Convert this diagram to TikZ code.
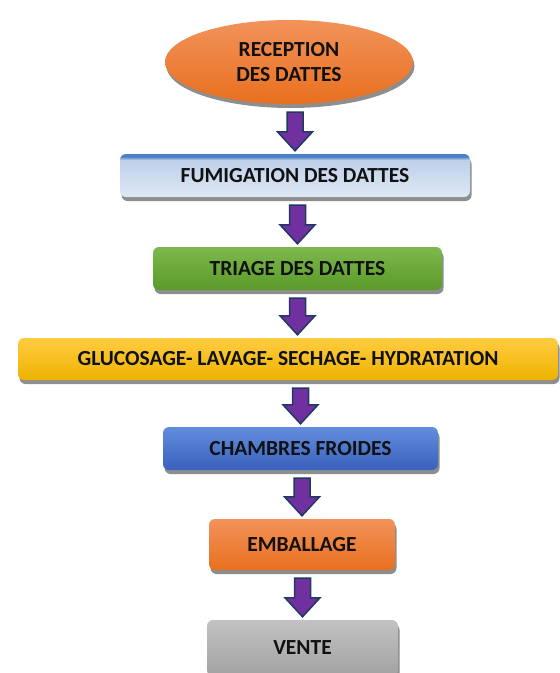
\documentclass[tikz,border=0pt]{standalone}
\usepackage{fontspec}
\setmainfont{Carlito}
\usetikzlibrary{shapes.geometric,shadows,calc}
\definecolor{orTop}{HTML}{F2925A}
\definecolor{orBot}{HTML}{E8701E}
\definecolor{fumBand}{HTML}{4A7EC6}
\definecolor{fumMid}{HTML}{BED0E9}
\definecolor{fumLo}{HTML}{DEE8F4}
\definecolor{grTop}{HTML}{7DB84C}
\definecolor{grBot}{HTML}{5A9A2A}
\definecolor{yeTop}{HTML}{FFCC40}
\definecolor{yeBot}{HTML}{EDB300}
\definecolor{blTop}{HTML}{628DDC}
\definecolor{blBot}{HTML}{3961BE}
\definecolor{gyTop}{HTML}{C2C2C2}
\definecolor{gyBot}{HTML}{A2A2A2}
\definecolor{shadowgray}{HTML}{7A7A7A}
\definecolor{arrowfill}{HTML}{7030A0}
\definecolor{arrowline}{HTML}{1F3A5F}
\definecolor{txt}{HTML}{111111}
\pgfdeclareverticalshading{fumishade}{100bp}{color(0bp)=(fumLo); color(25bp)=(fumLo); color(68bp)=(fumMid); color(72bp)=(fumBand); color(100bp)=(fumBand)}
\begin{document}
\begin{tikzpicture}[x=1pt, y=-1pt,
  stage/.style={rectangle, rounded corners=6pt, inner sep=0pt, text=txt,
    font=\fontsize{21.5}{25}\selectfont\bfseries, align=center,
    drop shadow={shadow xshift=1.5pt, shadow yshift=-4pt, fill=shadowgray, opacity=.85}},
  flowarrow/.style={fill=arrowfill, draw=arrowline, line width=1.5pt, line join=miter,
    to path={let \p1=(\tikztostart), \p2=(\tikztotarget) in
      (\x2-8pt,\y1-8pt) -- (\x2+8pt,\y1-8pt) -- (\x2+8pt,\y2+22pt) -- (\x2+17.5pt,\y2+22pt)
      -- (\x2,\y2+3pt) -- (\x2-17.5pt,\y2+22pt) -- (\x2-8pt,\y2+22pt) -- cycle}}]
\useasboundingbox (0,0) rectangle (560,673);
\node[stage, ellipse, minimum width=248pt, minimum height=84pt, top color=orTop, bottom color=orBot] (recep) at (289,62) {RECEPTION\\DES DATTES};
\node[stage, minimum width=350pt, minimum height=43pt, shading=fumishade] (fumig) at (295,175.5) {FUMIGATION DES DATTES};
\node[stage, minimum width=289pt, minimum height=43pt, top color=grTop, bottom color=grBot] (triage) at (297.5,268.5) {TRIAGE DES DATTES};
\node[stage, minimum width=540pt, minimum height=42pt, top color=yeTop, bottom color=yeBot] (glucos) at (288,359) {GLUCOSAGE- LAVAGE- SECHAGE- HYDRATATION};
\node[stage, minimum width=275pt, minimum height=43pt, top color=blTop, bottom color=blBot] (chambre) at (300.5,448.5) {CHAMBRES FROIDES};
\node[stage, minimum width=186pt, minimum height=51pt, top color=orTop, bottom color=orBot] (emball) at (302,544.5) {EMBALLAGE};
\node[stage, minimum width=191pt, minimum height=56pt, top color=gyTop, bottom color=gyBot] (vente) at (302.5,648) {VENTE};
\draw[flowarrow] (recep.south) to (fumig.north);
\draw[flowarrow] (fumig.south) to (triage.north);
\draw[flowarrow] (triage.south) to (glucos.north -| triage.north);
\draw[flowarrow] (glucos.south -| chambre.north) to (chambre.north);
\draw[flowarrow] (chambre.south) to (emball.north);
\draw[flowarrow] (emball.south) to (vente.north);
\end{tikzpicture}
\end{document}
